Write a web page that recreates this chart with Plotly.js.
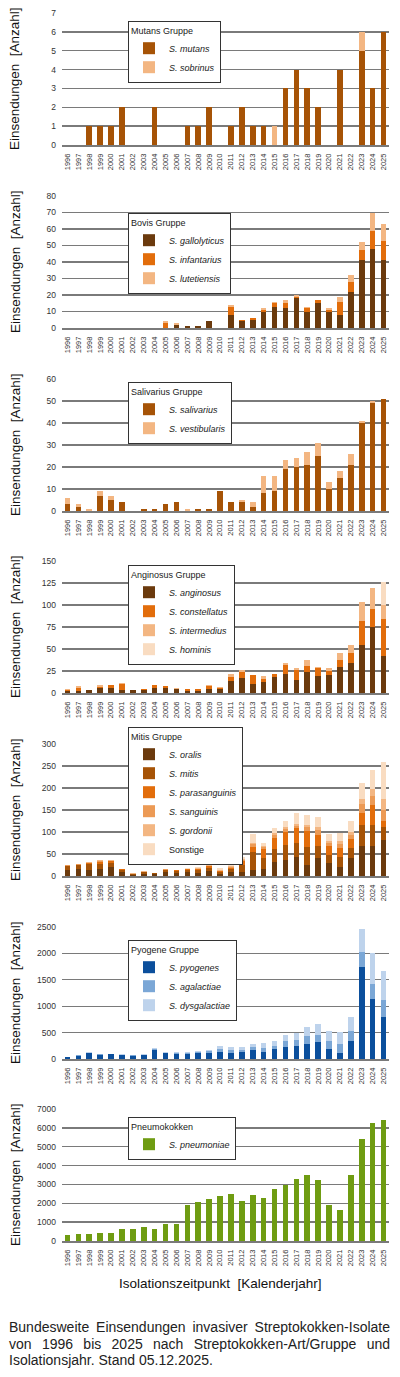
<!DOCTYPE html>
<html>
<head>
<meta charset="utf-8">
<script src="https://cdn.plot.ly/plotly-3.0.1.min.js"></script>
<style>
  html, body { margin: 0; padding: 0; background: #fff; width: 400px; height: 1377px; overflow: hidden; }
  #chart { position: absolute; left: 0; top: 0; width: 400px; height: 1377px; }
  #caption { position: absolute; left: 9px; top: 1319px; width: 381px; font-family: "Liberation Sans", Arial, sans-serif; font-size: 14px; line-height: 16.5px; color: #222; }
  #caption div { text-align: justify; text-align-last: justify; white-space: nowrap; }
  #caption div.last { text-align-last: left; }
</style>
</head>
<body>
<div id="chart"></div>
<div id="caption">
  <div>Bundesweite Einsendungen invasiver Streptokokken-Isolate</div>
  <div>von 1996 bis 2025 nach Streptokokken-Art/Gruppe und</div>
  <div class="last">Isolationsjahr. Stand 05.12.2025.</div>
</div>
<script>
// ---------- DATA ----------
const years = ['1996','1997','1998','1999','2000','2001','2002','2003','2004','2005',
               '2006','2007','2008','2009','2010','2011','2012','2013','2014','2015',
               '2016','2017','2018','2019','2020','2021','2022','2023','2024','2025'];

// Mutans Gruppe
const mutans       = [0,0,1,1,1,2,0,0,2,0,0,1,1,2,0,1,2,1,1,0,3,4,3,2,0,4,0,5,3,6];
const sobrinus     = [0,0,0,0,0,0,0,0,0,0,0,0,0,0,0,0,0,0,0,1,0,0,0,0,0,0,0,1,0,0];

// Bovis Gruppe
const gallolyticus = [0,0,0,0,0,0,0,0,0,0,2,1,1,4,0,8,4,5,10,13,12,18,10,15,10,8,22,41,48,41];
const infantarius  = [0,0,0,0,0,0,0,0,0,3,0,0,0,0,0,5,1,1,1,2,3,1,2,2,1,8,6,6,11,12];
const lutetiensis  = [0,0,0,0,0,0,0,0,0,1,1,0,0,0,0,1,0,0,1,1,2,1,1,0,1,3,4,5,11,10];

// Salivarius Gruppe
const salivarius   = [3,2,0,7,5,4,0,1,1,3,4,0,1,1,9,4,4,2,8,9,19,20,21,25,10,15,21,40,49,51];
const vestibularis = [3,1,1,2,2,0,0,0,0,0,0,1,0,0,0,0,1,2,8,7,4,4,6,6,3,3,5,1,1,0];

// Anginosus Gruppe
const anginosus    = [2,2,3,6,6,3,3,3,6,6,4,2,2,5,4,14,17,10,12,18,22,15,24,19,21,29,34,55,75,42];
const constellatus = [1,4,0,1,3,7,0,2,3,2,1,3,2,3,2,4,7,11,4,4,10,11,7,9,4,9,12,27,21,42];
const intermedius  = [1,2,0,2,0,1,0,0,0,0,1,0,1,1,1,4,2,0,3,0,2,2,7,2,3,7,9,21,23,16];
const hominis      = [0,0,0,0,0,0,0,0,0,0,0,0,0,0,0,0,0,0,0,0,0,0,0,0,0,0,0,0,0,26];

// Mitis Gruppe
const oralis        = [14,17,13,16,20,10,3,5,4,8,7,8,7,11,4,8,10,14,16,32,37,44,25,42,29,21,42,68,68,82];
const mitis         = [8,8,14,12,10,4,2,4,3,5,5,5,7,8,5,8,15,40,24,30,33,32,42,26,19,23,21,49,48,30];
const parasanguinis = [1,1,2,4,3,1,0,1,0,1,1,2,2,3,2,3,8,13,21,25,31,32,36,25,20,19,21,27,45,14];
const sanguinis     = [1,1,1,2,2,1,0,0,0,1,0,0,1,1,1,2,3,6,4,6,6,6,8,12,7,10,9,20,21,24];
const gordonii      = [1,1,1,2,2,0,1,1,0,0,1,1,1,1,1,1,3,3,3,4,4,4,6,6,5,7,8,12,15,26];
const sonstige      = [0,0,0,0,0,0,0,0,0,0,0,3,2,3,6,3,5,20,6,11,15,25,21,22,15,18,24,36,45,84];

// Pyogene Gruppe
const pyogenes      = [30,65,105,85,90,80,65,80,180,105,100,100,105,115,135,115,130,170,140,190,235,245,290,320,195,120,345,1740,1140,790];
const agalactiae    = [0,3,10,5,5,5,5,5,10,10,15,15,20,30,55,60,45,50,75,60,110,115,145,135,150,165,190,280,290,330];
const dysgalactiae  = [0,2,10,5,5,5,5,5,15,15,15,20,25,30,60,55,60,60,85,95,110,125,170,205,190,225,255,440,580,555];

// Pneumokokken
const pneumoniae    = [300,370,370,420,405,650,635,755,650,900,900,1900,2060,2215,2410,2515,2095,2430,2270,2745,2990,3270,3480,3220,1900,1635,3480,5415,6245,6435];

// ---------- STYLE ----------
const C = {
  dark:  '#6b3a0d',
  brown: '#a65306',
  orange:'#e26d0b',
  mid:   '#ec9a55',
  peach: '#f3b682',
  pale:  '#f9dcc1',
  blue1: '#0b4f9c',
  blue2: '#7ba7d6',
  blue3: '#bed3ec',
  green: '#6f9c12'
};
const FONT = '"Liberation Sans", Arial, sans-serif';

const panels = [
  { title: 'Mutans Gruppe', max: 7, dtick: 1, series: [
      ['S. mutans', mutans, C.brown], ['S. sobrinus', sobrinus, C.peach] ] },
  { title: 'Bovis Gruppe', max: 80, dtick: 10, series: [
      ['S. gallolyticus', gallolyticus, C.dark], ['S. infantarius', infantarius, C.orange], ['S. lutetiensis', lutetiensis, C.peach] ] },
  { title: 'Salivarius Gruppe', max: 60, dtick: 10, series: [
      ['S. salivarius', salivarius, C.brown], ['S. vestibularis', vestibularis, C.peach] ] },
  { title: 'Anginosus Gruppe', max: 150, dtick: 25, series: [
      ['S. anginosus', anginosus, C.dark], ['S. constellatus', constellatus, C.orange],
      ['S. intermedius', intermedius, C.peach], ['S. hominis', hominis, C.pale] ] },
  { title: 'Mitis Gruppe', max: 300, dtick: 50, series: [
      ['S. oralis', oralis, C.dark], ['S. mitis', mitis, C.brown], ['S. parasanguinis', parasanguinis, C.orange],
      ['S. sanguinis', sanguinis, C.mid], ['S. gordonii', gordonii, C.peach], ['Sonstige', sonstige, C.pale, true] ] },
  { title: 'Pyogene Gruppe', max: 2500, dtick: 500, series: [
      ['S. pyogenes', pyogenes, C.blue1], ['S. agalactiae', agalactiae, C.blue2], ['S. dysgalactiae', dysgalactiae, C.blue3] ] },
  { title: 'Pneumokokken', max: 7000, dtick: 1000, series: [
      ['S. pneumoniae', pneumoniae, C.green] ] }
];

// pixel geometry of the plotting areas
const W = 400, H = 1377;
const plotL = 62, plotR = 389;
const tops = [13, 196, 379, 561, 744, 927, 1109];
const plotH = 132;
const legendTops = [21, 213, 382, 565, 727, 940, 1117];
const legendLeft = 128;

const traces = [];
const layout = {
  width: W, height: H,
  margin: { l: plotL, r: W - plotR, t: 0, b: 0 },
  paper_bgcolor: '#fff', plot_bgcolor: '#fff',
  barmode: 'stack', bargap: 0.48,
  font: { family: FONT, color: '#222' },
  annotations: [],
  showlegend: true
};
const pw = plotR - plotL;

panels.forEach((p, i) => {
  const n = i + 1;
  const xa = n === 1 ? 'x' : 'x' + n;
  const ya = n === 1 ? 'y' : 'y' + n;
  const lg = n === 1 ? 'legend' : 'legend' + n;
  p.series.forEach(s => {
    traces.push({
      type: 'bar', x: years, y: s[1],
      name: s[3] ? s[0] : '<i>' + s[0] + '</i>',
      marker: { color: s[2], line: { width: 0 } },
      xaxis: xa, yaxis: ya, legend: lg,
      hoverinfo: 'skip'
    });
  });
  const top = tops[i], bot = tops[i] + plotH;
  layout[(n === 1 ? 'xaxis' : 'xaxis' + n)] = {
    domain: [0, 1], anchor: ya, type: 'category',
    tickangle: -90, tickfont: { size: 7.5, color: '#333', family: FONT },
    showgrid: false, zeroline: false,
    showline: true, linecolor: '#7a7a7a', linewidth: 1.6,
    ticks: '', ticklabelstandoff: 4, fixedrange: true
  };
  layout[(n === 1 ? 'yaxis' : 'yaxis' + n)] = {
    domain: [1 - bot / H, 1 - top / H], anchor: xa,
    range: [0, p.max], dtick: p.dtick, tick0: 0,
    showgrid: true, gridcolor: '#7a7a7a', gridwidth: 1.4,
    zeroline: false, showline: false, ticks: '',
    tickfont: { size: 8.5, color: '#333', family: FONT },
    ticklabelstandoff: 5, fixedrange: true
  };
  layout[lg] = {
    x: (legendLeft - plotL) / pw, xanchor: 'left',
    y: 1 - legendTops[i] / H, yanchor: 'top',
    bgcolor: '#fff', bordercolor: '#333', borderwidth: 1,
    traceorder: 'normal',
    font: { size: 9, color: '#222', family: FONT },
    title: { text: p.title, font: { size: 9, color: '#222', family: FONT } },
    itemwidth: 30
  };
  layout.annotations.push({
    xref: 'paper', yref: 'paper',
    x: (15 - plotL) / pw, y: 1 - (top + plotH / 2) / H,
    xanchor: 'center', yanchor: 'middle', textangle: -90,
    text: 'Einsendungen  [Anzahl]', showarrow: false,
    font: { size: 13.5, color: '#111', family: FONT }
  });
});

layout.annotations.push({
  xref: 'paper', yref: 'paper',
  x: (220 - plotL) / pw, y: 1 - 1283 / H,
  xanchor: 'center', yanchor: 'middle',
  text: 'Isolationszeitpunkt  [Kalenderjahr]', showarrow: false,
  font: { size: 13.5, color: '#111', family: FONT }
});

Plotly.newPlot('chart', traces, layout, { displayModeBar: false, staticPlot: true });
</script>
</body>
</html>
